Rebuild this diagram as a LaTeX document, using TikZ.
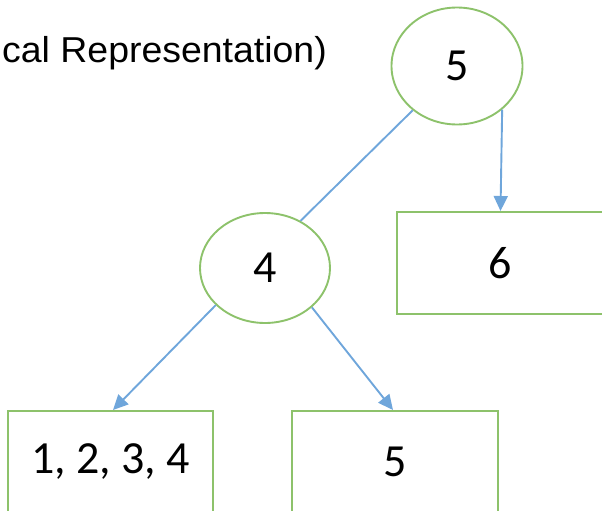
\documentclass[tikz,border=0pt]{standalone}
\usepackage{fontspec}
\setmainfont{Carlito}
\newfontfamily\titlefont{Liberation Sans}
\usetikzlibrary{shapes.geometric,arrows.meta,calc}
\definecolor{nodegreen}{HTML}{8DC26B}
\definecolor{linkblue}{HTML}{6FA6DB}
\tikzset{
  keynode/.style={ellipse, draw=nodegreen, line width=1.9pt, fill=white,
    inner sep=0pt, font=\fontsize{46}{50}\selectfont},
  leafbox/.style={rectangle, draw=nodegreen, line width=2pt, fill=white,
    inner sep=0pt, minimum width=206pt, minimum height=102pt,
    font=\fontsize{46}{50}\selectfont},
  link/.style={draw=linkblue, line width=1.9pt},
  arrowlink/.style={link, -{Triangle[length=15pt,width=14pt]}}
}
\begin{document}
\begin{tikzpicture}[x=1pt,y=-1pt]
  \useasboundingbox (0,0) rectangle (602,511);
  \clip (0,0) rectangle (602,511);

  % caption fragment
  \node[anchor=base west, inner sep=0pt, xscale=1.04,
        font=\titlefont\fontsize{36}{40}\selectfont]
    (caption) at (2,63) {cal Representation)};

  % inner nodes of the tree
  \node[keynode, minimum width=131pt, minimum height=117pt] (root) at (457,66) {5};
  \node[keynode, minimum width=130pt, minimum height=110pt] (inner) at (265,268) {4};

  % leaves
  \node[leafbox, minimum width=207pt] (leafsix) at (500.5,263) {6};
  \node[leafbox, minimum width=205pt] (leaflow) at (110.5,462) {1, 2, 3, 4};
  \node[leafbox] (leaffive) at (395,462) {5};

  % connectors
  \draw[link] (root.225) -- (inner.53);
  \draw[arrowlink] (root.-44) -- (leafsix.north);
  \draw[arrowlink] (inner.217) -- ($(leaflow.north)+(2.5,0)$);
  \draw[arrowlink] (inner.-40) -- ($(leaffive.north)+(-2,0)$);
\end{tikzpicture}
\end{document}
